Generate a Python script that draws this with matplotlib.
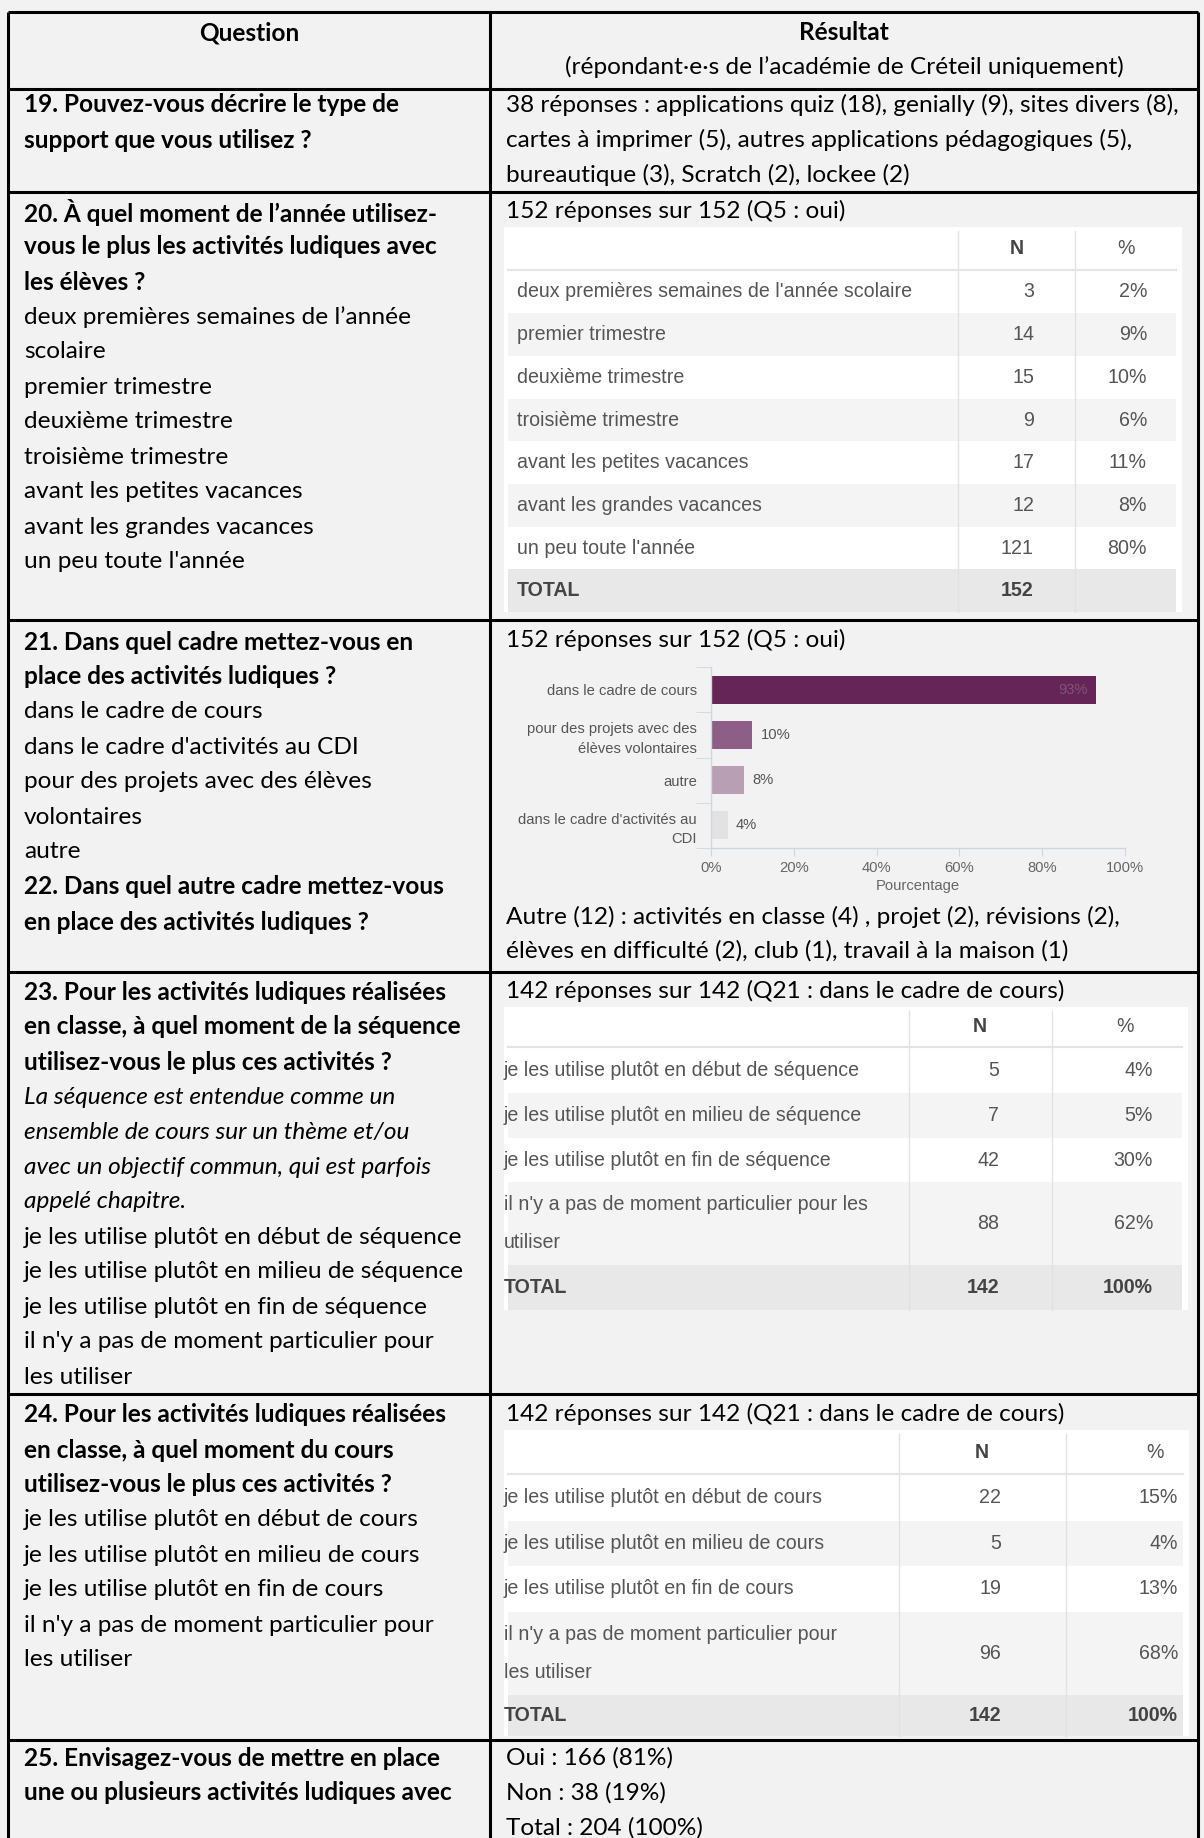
import matplotlib
matplotlib.use("Agg")
import matplotlib.pyplot as plt
from matplotlib.patches import Rectangle

# ---- data ----
q20_labels = ["deux premières semaines de l'année scolaire", "premier trimestre",
              "deuxième trimestre", "troisième trimestre", "avant les petites vacances",
              "avant les grandes vacances", "un peu toute l'année"]
q20_n = [3, 14, 15, 9, 17, 12, 121]
q20_pct = [2, 9, 10, 6, 11, 8, 80]
q20_total = 152

q21_labels = ["dans le cadre de cours", "pour des projets avec des\nélèves volontaires",
              "autre", "dans le cadre d'activités au\nCDI"]
q21_pct = [93, 10, 8, 4]
q21_colors = ["#662557", "#8d5e86", "#b89fb4", "#e2e2e2"]

q23_labels = ["je les utilise plutôt en début de séquence", "je les utilise plutôt en milieu de séquence",
              "je les utilise plutôt en fin de séquence",
              "il n'y a pas de moment particulier pour les\nutiliser"]
q23_n = [5, 7, 42, 88]
q23_pct = [4, 5, 30, 62]
q23_total = 142

q24_labels = ["je les utilise plutôt en début de cours", "je les utilise plutôt en milieu de cours",
              "je les utilise plutôt en fin de cours",
              "il n'y a pas de moment particulier pour\nles utiliser"]
q24_n = [22, 5, 19, 96]
q24_pct = [15, 4, 13, 68]
q24_total = 142

q25_oui, q25_non, q25_total = 166, 38, 204

W, H = 1204, 1838
BG = "#f2f2f2"
CAL = ["Lato", "DejaVu Sans"]
ARI = ["Liberation Sans", "DejaVu Sans"]
FS = 17.6      # body text
TFS = 14.1     # google table text
CFS = 10.6     # chart text
GREY = "#555555"

fig = plt.figure(figsize=(W / 100, H / 100), dpi=100)
fig.patch.set_facecolor(BG)
ax = fig.add_axes([0, 0, 1, 1])
ax.set_xlim(0, W)
ax.set_ylim(H, 0)
ax.axis("off")
ax.set_facecolor(BG)


def txt(x, y, s, **kw):
    kw.setdefault("family", CAL)
    kw.setdefault("fontsize", FS)
    kw.setdefault("va", "center")
    kw.setdefault("color", "black")
    ax.text(x, y, s, **kw)


def lines(x, y0, items, step=35):
    # items: (text, weight, style)
    for i, it in enumerate(items):
        s, w, st = it
        txt(x, y0 + i * step, s, fontweight=w, fontstyle=st)


# ---- grid of the word table ----
XL, XM, XR = 8, 490, 1198
row_y = [12, 89, 192, 620, 972, 1394, 1740]
for y in row_y:
    ax.plot([XL, XR], [y, y], color="black", lw=2.2, solid_capstyle="butt")
for x in (XL, XM, XR):
    ax.plot([x, x], [row_y[0], H], color="black", lw=2.2, solid_capstyle="butt")

# header
txt((XL + XM) / 2, 33, "Question", fontweight="bold", ha="center")
txt((XM + XR) / 2, 33, "Résultat", fontweight="bold", ha="center")
txt((XM + XR) / 2, 67, "(répondant·e·s de l’académie de Créteil uniquement)", ha="center")

LX = 24
RX = 506
B, N_, I = "bold", "normal", "italic"

# row 19
lines(LX, 105, [("19. Pouvez-vous décrire le type de", B, N_),
                ("support que vous utilisez ?", B, N_)])
lines(RX, 105, [("38 réponses : applications quiz (18), genially (9), sites divers (8),", N_, N_),
                ("cartes à imprimer (5), autres applications pédagogiques (5),", N_, N_),
                ("bureautique (3), Scratch (2), lockee (2)", N_, N_)])

# row 20
lines(LX, 212, [("20. À quel moment de l’année utilisez-", B, N_),
                ("vous le plus les activités ludiques avec", B, N_),
                ("les élèves ?", B, N_),
                ("deux premières semaines de l’année", N_, N_),
                ("scolaire", N_, N_),
                ("premier trimestre", N_, N_),
                ("deuxième trimestre", N_, N_),
                ("troisième trimestre", N_, N_),
                ("avant les petites vacances", N_, N_),
                ("avant les grandes vacances", N_, N_),
                ("un peu toute l'année", N_, N_)])
txt(RX, 211, "152 réponses sur 152 (Q5 : oui)")


def gtable(x0, x1, ytop, yhead, bounds, cseps, lab_x, n_x, p_x, nh_x, ph_x,
           labels, nvals, pvals, total, total_pct, two_line_gap=38):
    ax.add_patch(Rectangle((x0, ytop), x1 - x0, bounds[-1] - ytop, fc="white", ec="none", zorder=1))
    xa, xb = x0 + 4, x1 - 6
    for i in range(len(bounds) - 1):
        if i == len(bounds) - 2:
            fc = "#e8e8e8"
        elif i % 2 == 1:
            fc = "#f4f4f4"
        else:
            fc = "white"
        ax.add_patch(Rectangle((xa, bounds[i]), xb - xa, bounds[i + 1] - bounds[i],
                               fc=fc, ec="none", zorder=1.5))
    ax.plot([xa, xb], [yhead, yhead], color="#e4e4e4", lw=1.6, zorder=2)
    for cx in cseps:
        ax.plot([cx, cx], [ytop + 4, bounds[-1]], color="#e2e2e2", lw=1.0, zorder=2)
    hy = (ytop + yhead) / 2
    ax.text(nh_x, hy, "N", family=ARI, fontsize=TFS, fontweight="bold", color="#444444",
            ha="center", va="center", zorder=3)
    ax.text(ph_x, hy, "%", family=ARI, fontsize=TFS, color=GREY, ha="center", va="center", zorder=3)
    for i, lab in enumerate(labels):
        yc = (bounds[i] + bounds[i + 1]) / 2
        parts = lab.split("\n")
        if len(parts) == 1:
            ax.text(lab_x, yc, lab, family=ARI, fontsize=TFS, color=GREY, va="center", zorder=3)
        else:
            ax.text(lab_x, yc - two_line_gap / 2, parts[0], family=ARI, fontsize=TFS, color=GREY,
                    va="center", zorder=3)
            ax.text(lab_x, yc + two_line_gap / 2, parts[1], family=ARI, fontsize=TFS, color=GREY,
                    va="center", zorder=3)
        ax.text(n_x, yc, str(nvals[i]), family=ARI, fontsize=TFS, color=GREY, ha="right",
                va="center", zorder=3)
        ax.text(p_x, yc, f"{pvals[i]}%", family=ARI, fontsize=TFS, color=GREY, ha="right",
                va="center", zorder=3)
    yc = (bounds[-2] + bounds[-1]) / 2
    ax.text(lab_x, yc, "TOTAL", family=ARI, fontsize=TFS, fontweight="bold", color="#444444",
            va="center", zorder=3)
    ax.text(n_x, yc, str(total), family=ARI, fontsize=TFS, fontweight="bold", color="#444444",
            ha="right", va="center", zorder=3)
    if total_pct:
        ax.text(p_x, yc, total_pct, family=ARI, fontsize=TFS, fontweight="bold", color="#444444",
                ha="right", va="center", zorder=3)


gtable(504, 1182, 227, 270, [270, 313, 356, 399, 441, 484, 527, 569, 612],
       [958, 1075], 517, 1034, 1147, 1017, 1126,
       q20_labels, q20_n, q20_pct, q20_total, "")

# row 21 / 22
lines(LX, 642, [("21. Dans quel cadre mettez-vous en", B, N_),
                ("place des activités ludiques ?", B, N_),
                ("dans le cadre de cours", N_, N_),
                ("dans le cadre d'activités au CDI", N_, N_),
                ("pour des projets avec des élèves", N_, N_),
                ("volontaires", N_, N_),
                ("autre", N_, N_),
                ("22. Dans quel autre cadre mettez-vous", B, N_),
                ("en place des activités ludiques ?", B, N_)])
txt(RX, 640, "152 réponses sur 152 (Q5 : oui)")

# bar chart
bx0, bx1, by0, by1 = 711, 1125, 667, 848
bax = fig.add_axes([bx0 / W, 1 - by1 / H, (bx1 - bx0) / W, (by1 - by0) / H])
bax.set_facecolor("none")
ypos = list(range(len(q21_pct)))
bax.barh(ypos, q21_pct, height=0.62, color=q21_colors)
bax.set_xlim(0, 100)
bax.set_ylim(len(q21_pct) - 0.5, -0.5)
for sp in ("top", "right"):
    bax.spines[sp].set_visible(False)
for sp in ("left", "bottom"):
    bax.spines[sp].set_color("#cfd6e0")
    bax.spines[sp].set_linewidth(1.0)
bax.set_xticks([0, 20, 40, 60, 80, 100])
bax.set_xticklabels(["0%", "20%", "40%", "60%", "80%", "100%"], family=ARI, fontsize=CFS, color="#666666")
bax.tick_params(axis="x", length=6, color="#cfd6e0", pad=3)
bax.set_yticks(ypos)
bax.set_yticklabels(q21_labels, family=ARI, fontsize=CFS, color="#555555", linespacing=1.5)
bax.tick_params(axis="y", length=0, pad=10)
bax.set_yticks([i - 0.5 for i in range(len(q21_pct) + 1)], minor=True)
bax.tick_params(axis="y", which="minor", length=11, color="#cfd6e0")
bax.set_xlabel("Pourcentage", family=ARI, fontsize=CFS, color="#666666", labelpad=3)
for i, v in enumerate(q21_pct):
    if v > 50:
        bax.text(v - 2, i, f"{v}%", family=ARI, fontsize=CFS, color="#7d5576", ha="right", va="center")
    else:
        bax.text(v + 2, i, f"{v}%", family=ARI, fontsize=CFS, color="#555555", ha="left", va="center")

txt(RX, 917, "Autre (12) : activités en classe (4) , projet (2), révisions (2),")
txt(RX, 951, "élèves en difficulté (2), club (1), travail à la maison (1)")

# row 23
lines(LX, 992, [("23. Pour les activités ludiques réalisées", B, N_),
                ("en classe, à quel moment de la séquence", B, N_),
                ("utilisez-vous le plus ces activités ?", B, N_),
                ("La séquence est entendue comme un", N_, I),
                ("ensemble de cours sur un thème et/ou", N_, I),
                ("avec un objectif commun, qui est parfois", N_, I),
                ("appelé chapitre.", N_, I),
                ("je les utilise plutôt en début de séquence", N_, N_),
                ("je les utilise plutôt en milieu de séquence", N_, N_),
                ("je les utilise plutôt en fin de séquence", N_, N_),
                ("il n'y a pas de moment particulier pour", N_, N_),
                ("les utiliser", N_, N_)])
txt(RX, 991, "142 réponses sur 142 (Q21 : dans le cadre de cours)")
gtable(504, 1188, 1007, 1047, [1047, 1093, 1138, 1182, 1265, 1310],
       [909, 1052], 504, 999, 1153, 980, 1125,
       q23_labels, q23_n, q23_pct, q23_total, "100%")

# row 24
lines(LX, 1415, [("24. Pour les activités ludiques réalisées", B, N_),
                 ("en classe, à quel moment du cours", B, N_),
                 ("utilisez-vous le plus ces activités ?", B, N_),
                 ("je les utilise plutôt en début de cours", N_, N_),
                 ("je les utilise plutôt en milieu de cours", N_, N_),
                 ("je les utilise plutôt en fin de cours", N_, N_),
                 ("il n'y a pas de moment particulier pour", N_, N_),
                 ("les utiliser", N_, N_)])
txt(RX, 1414, "142 réponses sur 142 (Q21 : dans le cadre de cours)")
gtable(504, 1189, 1430, 1474, [1474, 1521, 1566, 1612, 1695, 1736],
       [899, 1066], 504, 1001, 1178, 982, 1155,
       q24_labels, q24_n, q24_pct, q24_total, "100%")

# row 25
lines(LX, 1758, [("25. Envisagez-vous de mettre en place", B, N_),
                 ("une ou plusieurs activités ludiques avec", B, N_)])
lines(RX, 1758, [(f"Oui : {q25_oui} ({round(100 * q25_oui / q25_total)}%)", N_, N_),
                 (f"Non : {q25_non} ({round(100 * q25_non / q25_total)}%)", N_, N_),
                 (f"Total : {q25_total} (100%)", N_, N_)])

fig.savefig("out.png", dpi=100, facecolor=fig.get_facecolor())
